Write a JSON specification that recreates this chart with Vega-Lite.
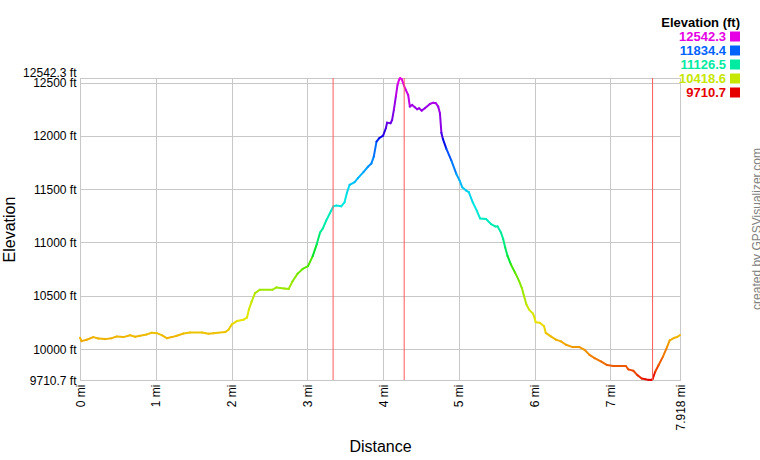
{
  "$schema": "https://vega.github.io/schema/vega-lite/v6.json",
  "width": 600,
  "height": 302,
  "autosize": "none",
  "padding": {"left": 80, "top": 78, "right": 80, "bottom": 80},
  "background": "white",
  "config": {"font": "Liberation Sans", "view": {"stroke": "#c8c8c8", "strokeWidth": 1}},
  "title": {"text": "created by GPSVisualizer.com", "orient": "right", "anchor": "middle", "frame": "group", "angle": 270, "baseline": "top", "offset": 0, "fontSize": 12, "fontWeight": "normal", "color": "#808080", "font": "Liberation Sans"},
  "datasets": {
    "profile": [
      {"d":0,"e":10107},{"d":0.02,"e":10075},{"d":0.088,"e":10088},{"d":0.176,"e":10113},{"d":0.242,"e":10100},{"d":0.33,"e":10094},{"d":0.419,"e":10103},{"d":0.485,"e":10119},{"d":0.573,"e":10113},{"d":0.661,"e":10131},{"d":0.727,"e":10116},{"d":0.793,"e":10126},{"d":0.881,"e":10138},{"d":0.947,"e":10154},{"d":1.013,"e":10150},{"d":1.079,"e":10131},{"d":1.145,"e":10103},{"d":1.211,"e":10113},{"d":1.278,"e":10126},{"d":1.366,"e":10147},{"d":1.454,"e":10157},{"d":1.608,"e":10157},{"d":1.696,"e":10145},{"d":1.762,"e":10150},{"d":1.916,"e":10160},{"d":1.96,"e":10182},{"d":2.004,"e":10232},{"d":2.07,"e":10263},{"d":2.159,"e":10276},{"d":2.203,"e":10295},{"d":2.23,"e":10374},{"d":2.265,"e":10446},{"d":2.31,"e":10525},{"d":2.372,"e":10557},{"d":2.54,"e":10557},{"d":2.593,"e":10579},{"d":2.695,"e":10569},{"d":2.752,"e":10563},{"d":2.805,"e":10636},{"d":2.872,"e":10708},{"d":2.938,"e":10752},{"d":3.009,"e":10778},{"d":3.071,"e":10872},{"d":3.124,"e":10983},{"d":3.168,"e":11093},{"d":3.204,"e":11131},{"d":3.248,"e":11204},{"d":3.314,"e":11298},{"d":3.345,"e":11339},{"d":3.381,"e":11346},{"d":3.447,"e":11339},{"d":3.491,"e":11377},{"d":3.522,"e":11465},{"d":3.558,"e":11541},{"d":3.624,"e":11566},{"d":3.668,"e":11604},{"d":3.74,"e":11660},{"d":3.8,"e":11710},{"d":3.845,"e":11740},{"d":3.877,"e":11805},{"d":3.913,"e":11946},{"d":3.947,"e":11977},{"d":4.0,"e":12002},{"d":4.036,"e":12071},{"d":4.053,"e":12124},{"d":4.098,"e":12118},{"d":4.119,"e":12149},{"d":4.142,"e":12243},{"d":4.168,"e":12368},{"d":4.19,"e":12477},{"d":4.21,"e":12525},{"d":4.225,"e":12542.3},{"d":4.245,"e":12532},{"d":4.262,"e":12500},{"d":4.276,"e":12470},{"d":4.3,"e":12430},{"d":4.331,"e":12383},{"d":4.353,"e":12274},{"d":4.383,"e":12290},{"d":4.419,"e":12268},{"d":4.449,"e":12249},{"d":4.476,"e":12259},{"d":4.508,"e":12236},{"d":4.551,"e":12259},{"d":4.617,"e":12299},{"d":4.661,"e":12311},{"d":4.697,"e":12306},{"d":4.727,"e":12274},{"d":4.75,"e":12212},{"d":4.769,"e":12030},{"d":4.79,"e":11969},{"d":4.834,"e":11880},{"d":4.9,"e":11770},{"d":4.965,"e":11645},{"d":5.009,"e":11582},{"d":5.044,"e":11519},{"d":5.096,"e":11487},{"d":5.131,"e":11472},{"d":5.183,"e":11377},{"d":5.236,"e":11299},{"d":5.279,"e":11226},{"d":5.358,"e":11220},{"d":5.424,"e":11173},{"d":5.48,"e":11151},{"d":5.511,"e":11151},{"d":5.555,"e":11094},{"d":5.585,"e":11031},{"d":5.611,"e":10953},{"d":5.642,"e":10874},{"d":5.686,"e":10795},{"d":5.742,"e":10717},{"d":5.795,"e":10638},{"d":5.83,"e":10575},{"d":5.86,"e":10497},{"d":5.891,"e":10418},{"d":5.926,"e":10371},{"d":5.978,"e":10333},{"d":6.0,"e":10290},{"d":6.013,"e":10253},{"d":6.067,"e":10247},{"d":6.124,"e":10215},{"d":6.147,"e":10152},{"d":6.213,"e":10120},{"d":6.28,"e":10089},{"d":6.347,"e":10073},{"d":6.413,"e":10041},{"d":6.502,"e":10019},{"d":6.591,"e":10019},{"d":6.658,"e":9994},{"d":6.724,"e":9946},{"d":6.791,"e":9915},{"d":6.88,"e":9883},{"d":6.956,"e":9851},{"d":7.036,"e":9842},{"d":7.204,"e":9842},{"d":7.236,"e":9810},{"d":7.302,"e":9797},{"d":7.356,"e":9756},{"d":7.413,"e":9725},{"d":7.46,"e":9718},{"d":7.5,"e":9712},{"d":7.535,"e":9710.7},{"d":7.556,"e":9718},{"d":7.591,"e":9788},{"d":7.636,"e":9851},{"d":7.693,"e":9930},{"d":7.747,"e":10019},{"d":7.782,"e":10082},{"d":7.836,"e":10104},{"d":7.88,"e":10114},{"d":7.918,"e":10131}
    ],
    "waypoints": [{"d": 3.34}, {"d": 4.278}, {"d": 7.556}]
  },
  "layer": [
    {
      "data": {"name": "profile"},
      "transform": [
        {"window": [{"op": "lead", "field": "d", "as": "d2"}, {"op": "lead", "field": "e", "as": "e2"}], "sort": [{"field": "d", "order": "ascending"}]},
        {"filter": "datum.d2 != null"}
      ],
      "mark": {"type": "rule", "strokeCap": "round"},
      "encoding": {
        "x": {"field": "d", "type": "quantitative", "scale": {"domain": [0, 7.918], "nice": false, "zero": false},
          "axis": {"values": [0, 1, 2, 3, 4, 5, 6, 7, 7.918], "labelExpr": "datum.value + ' mi'", "labelAngle": -90, "ticks": false, "domain": false, "labelPadding": 4, "labelFontSize": 12, "labelColor": "#000", "labelOverlap": false, "labelFlush": false, "labelBound": false, "gridColor": "#c8c8c8", "title": "Distance", "titleFontSize": 16, "titleFontWeight": "normal", "titleColor": "#000", "titlePadding": 8}},
        "y": {"field": "e", "type": "quantitative", "scale": {"domain": [9710.7, 12542.3], "nice": false, "zero": false},
          "axis": {"values": [9710.7, 10000, 10500, 11000, 11500, 12000, 12500, 12542.3], "labelExpr": "datum.value + ' ft'", "ticks": false, "domain": false, "labelPadding": 4, "labelFontSize": 12, "labelColor": "#000", "labelOverlap": false, "labelFlush": false, "labelBound": false, "labelOffset": {"condition": {"test": "datum.value > 12510", "value": -6}, "value": 0}, "gridColor": "#c8c8c8", "title": "Elevation", "titleFontSize": 16, "titleFontWeight": "normal", "titleColor": "#000", "titlePadding": 5}},
        "x2": {"field": "d2"},
        "y2": {"field": "e2"},
        "strokeWidth": {"value": 2},
        "color": {"field": "e", "type": "quantitative",
          "scale": {"domain": [9710.7, 12542.3], "range": ["#e60000", "#e6e600", "#00e600", "#00e6e6", "#0000e6", "#e600e6"]},
          "legend": {"type": "symbol", "values": [12542.3, 11834.4, 11126.5, 10418.6, 9710.7], "title": "Elevation (ft)", "orient": "none", "legendX": 581, "legendY": -61, "direction": "vertical", "symbolType": "square", "symbolSize": 100, "symbolStrokeWidth": 0, "symbolFillColor": {"expr": "scale('color', datum.value)"}, "symbolOpacity": 1, "symbolOffset": 49.5, "labelFont": "Liberation Sans", "labelFontSize": 13, "labelFontWeight": "bold", "labelAlign": "right", "labelOffset": -15.5, "labelColor": {"expr": "scale('color', datum.value)"}, "labelExpr": "'' + datum.value", "titleFont": "Liberation Sans", "titleFontSize": 13, "titleFontWeight": "bold", "titleColor": "#000", "titleAnchor": "end", "titlePadding": 0, "rowPadding": -2, "padding": 0}}
      }
    },
    {
      "data": {"name": "waypoints"},
      "mark": {"type": "rule", "color": "#ff5a5a", "strokeWidth": 1},
      "encoding": {"x": {"field": "d", "type": "quantitative"}}
    }
  ]
}
